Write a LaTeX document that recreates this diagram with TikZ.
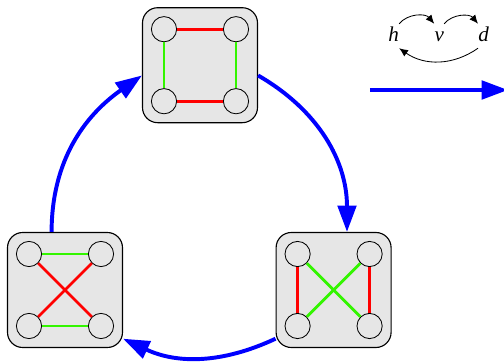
\documentclass[tikz,border=0pt]{standalone}
\usepackage{fontspec}
\setmainfont{Liberation Serif}
\usepackage{xcolor}
\usetikzlibrary{arrows.meta, positioning}

\definecolor{boxgray}{RGB}{230,230,230}
\definecolor{edgegreen}{RGB}{51,245,0}

\begin{document}
\begin{tikzpicture}[
    font=\fontsize{15}{17}\selectfont\itshape,
    group/.style={
        draw,
        fill=boxgray,
        rounded corners=0.38cm,
        minimum width=2.875cm,
        minimum height=2.875cm,
        line width=0.8pt
    },
    vertex/.style={
        draw,
        circle,
        minimum size=0.63cm,
        inner sep=0pt,
        line width=0.6pt
    },
    redge/.style={red, line width=1.9pt},
    gedge/.style={edgegreen, line width=2.1pt},
    flow/.style={
        -{Triangle[length=6.6mm, width=4.6mm]},
        blue,
        line width=2.8pt
    },
    letter/.style={
        anchor=base,
        inner xsep=0pt,
        inner ysep=3.5pt,
        text height=0.9em,
        text depth=0.1em
    },
    legend/.style={
        -{Latex[length=2.2mm, width=1.9mm]},
        line width=0.6pt
    }
]

\useasboundingbox (0,0) rectangle (12.6,9.05);

% the three groups
\node[group] (boxh) at (5.0,7.42) {};
\node[group] (boxv) at (8.34,1.8) {};
\node[group] (boxd) at (1.625,1.8) {};

\node[vertex] (h1) at ([shift={(-0.9,0.9)}]boxh.center) {};
\node[vertex] (h2) at ([shift={(0.9,0.9)}]boxh.center) {};
\node[vertex] (h3) at ([shift={(-0.9,-0.9)}]boxh.center) {};
\node[vertex] (h4) at ([shift={(0.9,-0.9)}]boxh.center) {};

\node[vertex] (v1) at ([shift={(-0.9,0.9)}]boxv.center) {};
\node[vertex] (v2) at ([shift={(0.9,0.9)}]boxv.center) {};
\node[vertex] (v3) at ([shift={(-0.9,-0.9)}]boxv.center) {};
\node[vertex] (v4) at ([shift={(0.9,-0.9)}]boxv.center) {};

\node[vertex] (d1) at ([shift={(-0.9,0.9)}]boxd.center) {};
\node[vertex] (d2) at ([shift={(0.9,0.9)}]boxd.center) {};
\node[vertex] (d3) at ([shift={(-0.9,-0.9)}]boxd.center) {};
\node[vertex] (d4) at ([shift={(0.9,-0.9)}]boxd.center) {};

\draw[redge] (h1) -- (h2);
\draw[redge] (h3) -- (h4);
\draw[gedge] (h1) -- (h3);
\draw[gedge] (h2) -- (h4);

\draw[redge] (v1) -- (v3);
\draw[redge] (v2) -- (v4);
\draw[gedge] (v1) -- (v4);
\draw[gedge] (v2) -- (v3);

\draw[redge] (d1) -- (d4);
\draw[redge] (d2) -- (d3);
\draw[gedge] (d1) -- (d2);
\draw[gedge] (d3) -- (d4);

\draw[flow] (boxd.103) to[out=90, in=215] (boxh.190);
\draw[flow] (boxh.350) to[out=-30, in=90] (boxv.77);
\draw[flow] (boxv.220) to[out=205, in=335] (boxd.320);

% legend
\node[letter] (h) at (9.84,8.01) {h};
\node[letter] (v) at (10.98,8.01) {v};
\node[letter] (d) at (12.09,8.01) {d};

\draw[legend] (h.north east) to[bend left=50] (v.north west);
\draw[legend] (v.north east) to[bend left=50] (d.north west);
\draw[legend] (d.south west) to[bend left=35] (h.south east);

\coordinate (ra) at (9.25,6.8);
\coordinate (rb) at (12.7,6.8);
\draw[flow] (ra) -- (rb);

\end{tikzpicture}
\end{document}
